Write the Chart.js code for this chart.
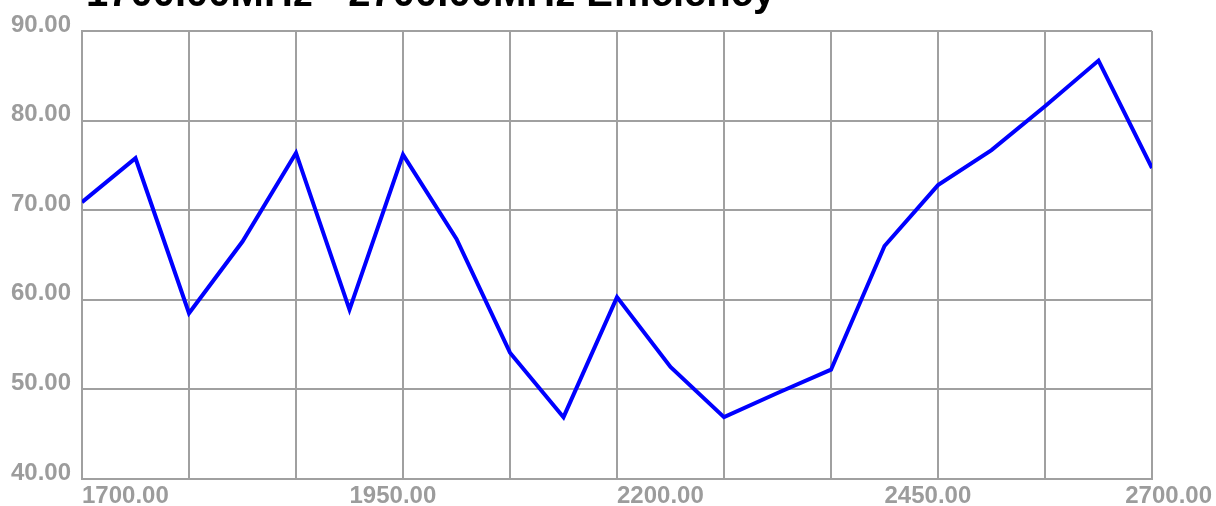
<!DOCTYPE html>
<html>
<head>
<meta charset="utf-8">
<script src="https://cdn.jsdelivr.net/npm/chart.js@4.4.1/dist/chart.umd.min.js"></script>
<style>
  html, body { margin: 0; padding: 0; background: #ffffff; overflow: hidden; }
  #wrap { position: relative; width: 1216px; height: 506px; }
  #title { position: absolute; left: 86px; top: -28px; font: bold 40px "Liberation Sans", Arial, sans-serif; line-height: 40px; color: #000; white-space: nowrap; }
  canvas { position: absolute; left: 0; top: 0; }
</style>
</head>
<body>
<div id="wrap">
  <canvas id="c" width="1216" height="506"></canvas>
  <div id="title">1700.00MHz - 2700.00MHz Efficiency</div>
</div>
<script>
const frequencies = [1700, 1750, 1800, 1850, 1900, 1950, 2000, 2050, 2100, 2150, 2200, 2250, 2300, 2350, 2400, 2450, 2500, 2550, 2600, 2650, 2700];
const efficiency = [70.9, 75.8, 58.5, 66.5, 76.4, 58.9, 76.2, 66.8, 54.1, 46.9, 60.3, 52.5, 46.9, 49.6, 52.2, 66.0, 72.8, 76.7, 81.6, 86.7, 74.7];
const xTickLabels = [1700, 1950, 2200, 2450, 2700];
const yTickLabels = [40, 50, 60, 70, 80, 90];

const GRID = '#a0a0a0';
const TICK_COLOR = '#9c9c9c';
const TICK_FONT = { family: '"Liberation Sans", Arial, sans-serif', size: 24, weight: 'bold' };

const xLabelPlugin = {
  id: 'xLabels',
  afterDraw(chart) {
    const ctx = chart.ctx;
    const xs = chart.scales.x;
    ctx.save();
    ctx.font = 'bold 24px "Liberation Sans", Arial, sans-serif';
    ctx.fillStyle = TICK_COLOR;
    ctx.textAlign = 'left';
    ctx.textBaseline = 'alphabetic';
    const y = chart.chartArea.bottom + 24;
    xTickLabels.forEach(v => {
      const label = v.toFixed(2);
      const w = ctx.measureText(label).width;
      let x = xs.getPixelForValue(v);
      x = Math.min(x, chart.width - 4 - w);
      ctx.fillText(label, x, y);
    });
    ctx.restore();
  }
};

new Chart(document.getElementById('c'), {
  type: 'line',
  data: {
    datasets: [{
      data: frequencies.map((f, i) => ({ x: f, y: efficiency[i] })),
      borderColor: '#0000ff',
      borderWidth: 4,
      pointRadius: 0,
      tension: 0,
      fill: false
    }]
  },
  options: {
    responsive: false,
    animation: false,
    devicePixelRatio: 1,
    layout: { padding: { left: 0, right: 64, top: 31, bottom: 0 } },
    plugins: { legend: { display: false }, tooltip: { enabled: false }, title: { display: false } },
    scales: {
      x: {
        type: 'linear',
        min: 1700,
        max: 2700,
        ticks: { display: false, stepSize: 100 },
        grid: { color: GRID, lineWidth: 2, drawTicks: false },
        border: { color: GRID, width: 2 },
        afterFit(scale) { scale.height = 27; scale.paddingLeft = 0; scale.paddingRight = 0; }
      },
      y: {
        type: 'linear',
        min: 40,
        max: 90,
        afterBuildTicks(scale) { scale.ticks = yTickLabels.map(v => ({ value: v })); },
        ticks: {
          align: 'end',
          labelOffset: 6,
          padding: 11,
          color: TICK_COLOR,
          font: TICK_FONT,
          callback: v => Number(v).toFixed(2)
        },
        grid: { color: GRID, lineWidth: 2, drawTicks: false },
        border: { color: GRID, width: 2 },
        afterFit(scale) { scale.width = 82; scale.paddingTop = 0; scale.paddingBottom = 0; }
      }
    }
  },
  plugins: [xLabelPlugin]
});
</script>
</body>
</html>
